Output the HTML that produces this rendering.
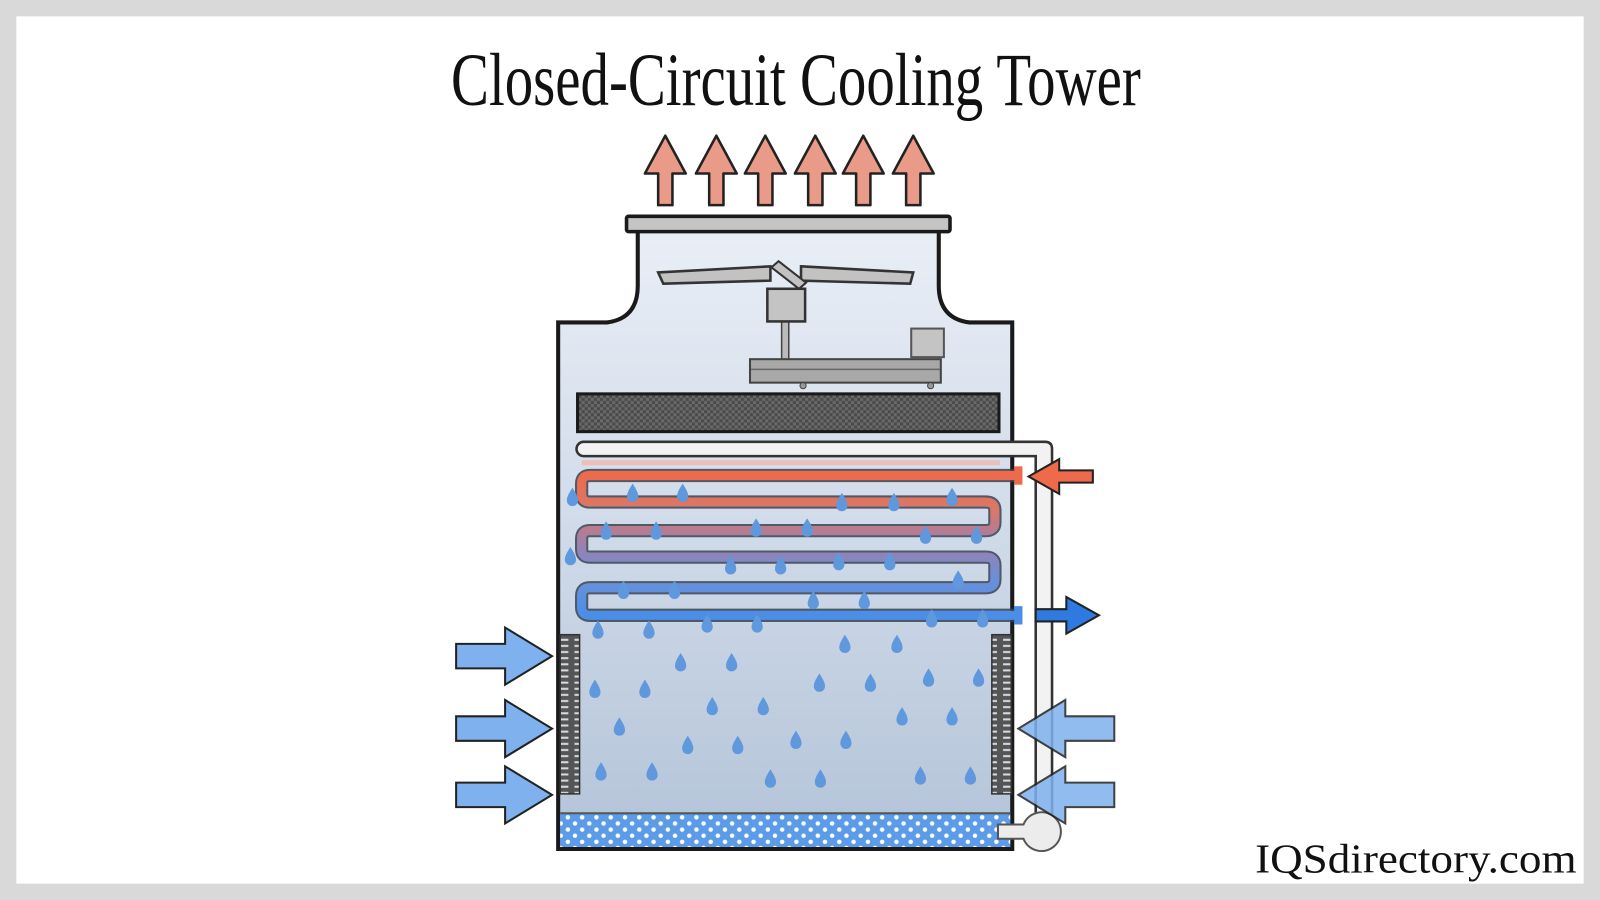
<!DOCTYPE html>
<html><head><meta charset="utf-8"><style>
html,body{margin:0;padding:0;background:#d9d9d9;}
svg{display:block;}
</style></head><body>
<svg width="1600" height="900" viewBox="0 0 1568 882" xmlns="http://www.w3.org/2000/svg">
<defs>
<linearGradient id="tw" x1="0" y1="0" x2="0" y2="1">
<stop offset="0" stop-color="#e9eef6"/><stop offset="0.45" stop-color="#d2dcea"/><stop offset="1" stop-color="#b3c3d8"/>
</linearGradient>
<linearGradient id="coil" x1="0" y1="466" x2="0" y2="603" gradientUnits="userSpaceOnUse">
<stop offset="0" stop-color="#ee6a4c"/><stop offset="0.25" stop-color="#d9786a"/><stop offset="0.5" stop-color="#9a80b0"/><stop offset="0.75" stop-color="#6a90d8"/><stop offset="1" stop-color="#4a8ee8"/>
</linearGradient>
<pattern id="hatch" width="6" height="6" patternUnits="userSpaceOnUse">
<rect width="6" height="6" fill="#6a6a6a"/><rect width="3" height="3" fill="#4a4a4a"/><rect x="3" y="3" width="3" height="3" fill="#4a4a4a"/>
</pattern>
<pattern id="dots" width="14" height="12" patternUnits="userSpaceOnUse">
<rect width="14" height="12" fill="#5b9be8"/><circle cx="3.5" cy="3" r="2.2" fill="#fff"/><circle cx="10.5" cy="9" r="2.2" fill="#fff"/>
</pattern>
<pattern id="louv" width="20" height="6" patternUnits="userSpaceOnUse">
<rect width="20" height="6" fill="#555"/><rect x="3" y="2" width="14" height="2" fill="#d5dbe3"/>
</pattern>
<g id="d"><path d="M0,-9 C3.5,-3.5 5.5,0 5.5,3.5 A5.5,5.5 0 0 1 -5.5,3.5 C-5.5,0 -3.5,-3.5 0,-9Z" fill="#5f98dc"/></g>
<g id="up"><path d="M0,0 L20,37 L7,37 L7,68 L-7,68 L-7,37 L-20,37Z" fill="#e99a88" stroke="#222" stroke-width="2.5" stroke-linejoin="round"/></g>
<g id="ra"><path d="M0,0 L-46,-28 L-46,-12 L-94,-12 L-94,12 L-46,12 L-46,28Z" fill="#7eb1ee" stroke="#222" stroke-width="2" stroke-linejoin="miter"/></g>
</defs>
<rect x="0" y="0" width="1568" height="882" fill="#d9d9d9"/>
<rect x="16" y="16" width="1536" height="850" fill="#fff"/>
<text x="442" y="103" font-family="Liberation Serif, serif" font-size="74" textLength="676" lengthAdjust="spacingAndGlyphs" fill="#111">Closed-Circuit Cooling Tower</text>
<text x="1230" y="855" font-family="Liberation Serif, serif" font-size="40" textLength="315" lengthAdjust="spacingAndGlyphs" fill="#111">IQSdirectory.com</text>
<use href="#up" x="652" y="133"/><use href="#up" x="702" y="133"/><use href="#up" x="750" y="133"/>
<use href="#up" x="799" y="133"/><use href="#up" x="846" y="133"/><use href="#up" x="895" y="133"/>
<path d="M625,226 L625,280 Q625,312 595,316 L547,316 L547,832 L992,832 L992,316 L950,316 Q920,312 920,280 L920,226Z" fill="url(#tw)" stroke="#1a1a1a" stroke-width="4"/>
<rect x="614" y="212" width="317" height="15" rx="2" fill="#c4c4c4" stroke="#1a1a1a" stroke-width="3.5"/>
<path d="M645,267 L755,261 L755,275 L650,278Z" fill="#c2c2c2" stroke="#333" stroke-width="2.5"/>
<path d="M785,261 L895,267 L892,278 L785,275Z" fill="#c2c2c2" stroke="#333" stroke-width="2.5"/>
<path d="M756,262 L763,256 L790,277 L783,283Z" fill="#c2c2c2" stroke="#333" stroke-width="2"/>
<rect x="766" y="315" width="7" height="40" fill="#bbb" stroke="#444" stroke-width="1.5"/>
<rect x="752" y="283" width="37" height="32" fill="#c4c4c4" stroke="#333" stroke-width="2.5"/>
<rect x="893" y="322" width="32" height="28" fill="#c4c4c4" stroke="#555" stroke-width="2"/>
<rect x="735" y="352" width="187" height="23" fill="#a8a8a8" stroke="#444" stroke-width="2"/>
<line x1="736" y1="362" x2="921" y2="362" stroke="#666" stroke-width="1.5"/>
<circle cx="787" cy="378" r="3" fill="#999" stroke="#444"/><circle cx="912" cy="378" r="3" fill="#999" stroke="#444"/>
<rect x="566" y="386" width="413" height="37" fill="url(#hatch)" stroke="#1a1a1a" stroke-width="3"/>
<path d="M572,433 L1024,433 Q1031,433 1031,440 L1031,805 L1015,805 L1015,447 L572,447 A7,7 0 0 1 572,433Z" fill="#f2f2f2" stroke="#333" stroke-width="2.5"/>
<rect x="570" y="451" width="410" height="5" fill="#f0b8b0" opacity="0.8"/>
<path d="M1000,466 L578,466 Q570,466 570,474 L570,484 Q570,492 578,492 L966,492 Q975,492 975,500 L975,512 Q975,520 966,520 L578,520 Q570,520 570,528 L570,538 Q570,546 578,546 L966,546 Q975,546 975,554 L975,568 Q975,576 966,576 L578,576 Q570,576 570,584 L570,595 Q570,603 578,603 L1000,603" fill="none" stroke="#3a4250" stroke-width="13" stroke-linejoin="round" opacity="0.85"/>
<path d="M1000,466 L578,466 Q570,466 570,474 L570,484 Q570,492 578,492 L966,492 Q975,492 975,500 L975,512 Q975,520 966,520 L578,520 Q570,520 570,528 L570,538 Q570,546 578,546 L966,546 Q975,546 975,554 L975,568 Q975,576 966,576 L578,576 Q570,576 570,584 L570,595 Q570,603 578,603 L1000,603" fill="none" stroke="url(#coil)" stroke-width="9" stroke-linejoin="round"/>
<rect x="994" y="457" width="8" height="18" fill="#ee6a4c"/>
<rect x="994" y="594" width="8" height="18" fill="#4a8ee8"/>
<rect x="549" y="622" width="19" height="156" fill="url(#louv)" stroke="#333" stroke-width="1.5"/>
<rect x="972" y="622" width="19" height="156" fill="url(#louv)" stroke="#333" stroke-width="1.5"/>
<rect x="549" y="797" width="441" height="33" fill="url(#dots)"/>
<line x1="549" y1="797" x2="990" y2="797" stroke="#555" stroke-width="2"/>
<path d="M978,808 L1003,808 A19,19 0 1 1 1003,822 L978,822Z" fill="#ececec" stroke="#555" stroke-width="2"/>
<g>
<use href="#d" x="620" y="483"/><use href="#d" x="669" y="483"/><use href="#d" x="561" y="487"/><use href="#d" x="825" y="492"/><use href="#d" x="876" y="492"/><use href="#d" x="933" y="487"/>
<use href="#d" x="594" y="520"/><use href="#d" x="643" y="520"/><use href="#d" x="741" y="517"/><use href="#d" x="791" y="517"/><use href="#d" x="907" y="524"/><use href="#d" x="957" y="524"/>
<use href="#d" x="559" y="545"/><use href="#d" x="716" y="554"/><use href="#d" x="765" y="554"/><use href="#d" x="822" y="550"/><use href="#d" x="872" y="550"/><use href="#d" x="939" y="568"/>
<use href="#d" x="611" y="578"/><use href="#d" x="661" y="578"/><use href="#d" x="797" y="588"/><use href="#d" x="847" y="588"/>
<use href="#d" x="586" y="617"/><use href="#d" x="636" y="617"/><use href="#d" x="693" y="611"/><use href="#d" x="742" y="611"/><use href="#d" x="913" y="606"/><use href="#d" x="963" y="606"/>
<use href="#d" x="828" y="631"/><use href="#d" x="879" y="631"/><use href="#d" x="667" y="649"/><use href="#d" x="717" y="649"/>
<use href="#d" x="583" y="675"/><use href="#d" x="632" y="675"/><use href="#d" x="803" y="669"/><use href="#d" x="853" y="669"/><use href="#d" x="910" y="664"/><use href="#d" x="959" y="664"/>
<use href="#d" x="698" y="692"/><use href="#d" x="748" y="692"/><use href="#d" x="607" y="712"/><use href="#d" x="884" y="702"/><use href="#d" x="933" y="702"/>
<use href="#d" x="674" y="730"/><use href="#d" x="723" y="730"/><use href="#d" x="780" y="725"/><use href="#d" x="829" y="725"/>
<use href="#d" x="589" y="756"/><use href="#d" x="639" y="756"/><use href="#d" x="755" y="763"/><use href="#d" x="804" y="763"/><use href="#d" x="902" y="760"/><use href="#d" x="951" y="760"/>
</g>
<use href="#ra" transform="translate(541,643)"/>
<use href="#ra" transform="translate(541,714)"/>
<use href="#ra" transform="translate(541,779)"/>
<g opacity="0.85"><use href="#ra" transform="translate(998,714) scale(-1,1)"/>
<use href="#ra" transform="translate(998,779) scale(-1,1)"/></g>
<path d="M1008,467 L1038,450 L1038,461 L1071,461 L1071,473 L1038,473 L1038,484Z" fill="#ee6a4c" stroke="#222" stroke-width="2"/>
<path d="M1077,603 L1045,585 L1045,597 L1015,597 L1015,609 L1045,609 L1045,621Z" fill="#2f7ae0" stroke="#222" stroke-width="2"/>
</svg>
</body></html>
